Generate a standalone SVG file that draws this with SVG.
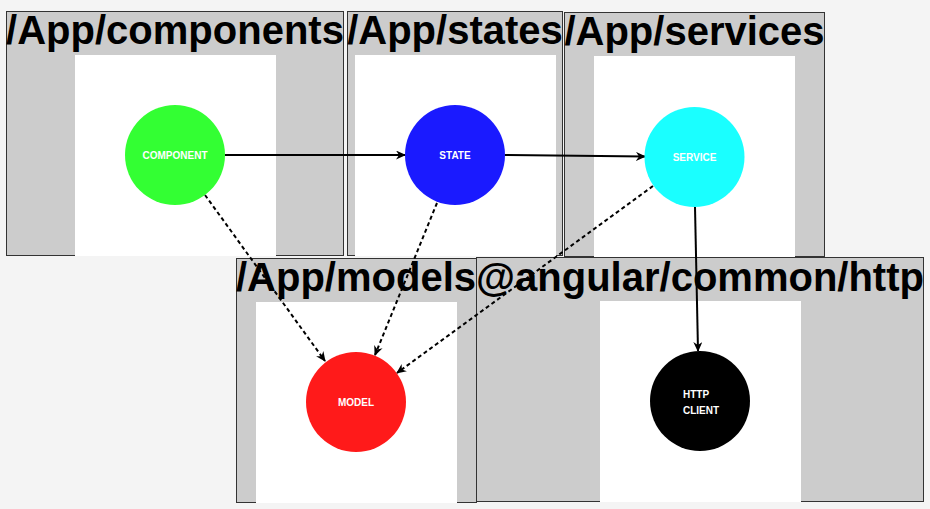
<svg xmlns="http://www.w3.org/2000/svg" width="930" height="509" viewBox="0 0 930 509">
<defs>
<style>
.box{fill:#cccccc;stroke:#333333;stroke-width:1}
.inner{fill:#ffffff}
.title{font-family:"Liberation Sans",Arial,sans-serif;font-weight:bold;font-size:40px;fill:#000;text-anchor:middle}
.lbl{font-family:"Liberation Sans",Arial,sans-serif;font-weight:bold;font-size:10px;fill:#fff;text-anchor:middle}
.lbll{font-family:"Liberation Sans",Arial,sans-serif;font-weight:bold;font-size:10px;fill:#fff}
.edge{fill:none;stroke:#000;stroke-width:2}
.dash{stroke-dasharray:4 3}
</style>
<marker id="arr" viewBox="0 0 10 9" refX="9" refY="4.5" markerWidth="10" markerHeight="9" markerUnits="userSpaceOnUse" orient="auto">
<path d="M0,0 L10,4.5 L0,9 L3,4.5 z" fill="#000"/>
</marker>
</defs>
<rect x="0" y="0" width="930" height="509" fill="#f4f4f4"/>
<g id="grp-components">
<rect class="box" x="6.5" y="11.5" width="337" height="244"/>
<rect class="inner" x="75" y="55" width="201" height="201"/>
<text class="title" x="175" y="44">/App/components</text>
</g>
<g id="grp-states">
<rect class="box" x="347.5" y="11.5" width="215" height="244"/>
<rect class="inner" x="355" y="55" width="201" height="201"/>
<text class="title" x="455" y="44">/App/states</text>
</g>
<g id="grp-services">
<rect class="box" x="564.5" y="12.5" width="260" height="244"/>
<rect class="inner" x="594" y="56" width="201" height="201"/>
<text class="title" x="694.5" y="45">/App/services</text>
</g>
<g id="grp-models">
<rect class="box" x="236.5" y="258.5" width="240" height="244"/>
<rect class="inner" x="256" y="302" width="201" height="201"/>
<text class="title" x="356" y="291">/App/models</text>
</g>
<g id="grp-http">
<rect class="box" x="476.5" y="257.5" width="447" height="244"/>
<rect class="inner" x="600" y="301" width="201" height="201"/>
<text class="title" x="700" y="291">@angular/common/http</text>
</g>
<g id="connectors">
<path class="edge" d="M225,155 L405,155" marker-end="url(#arr)"/>
<path class="edge" d="M505,155 L645,156.5" marker-end="url(#arr)"/>
<path class="edge" d="M695,207 L698,351" marker-end="url(#arr)"/>
<path class="edge dash" d="M205,195 L325,361" marker-end="url(#arr)"/>
<path class="edge dash" d="M437,203 L375,355" marker-end="url(#arr)"/>
<path class="edge dash" d="M653,186 L397,373" marker-end="url(#arr)"/>
</g>
<g id="node-component">
<circle cx="175" cy="155" r="50" fill="#33ff33"/>
<text class="lbl" x="175" y="159">COMPONENT</text>
</g>
<g id="node-state">
<circle cx="455" cy="155" r="50" fill="#1a1aff"/>
<text class="lbl" x="455" y="159">STATE</text>
</g>
<g id="node-service">
<circle cx="694.5" cy="157" r="50" fill="#1affff"/>
<text class="lbl" x="694.5" y="161">SERVICE</text>
</g>
<g id="node-model">
<circle cx="356" cy="402" r="50" fill="#ff1a1a"/>
<text class="lbl" x="356" y="406">MODEL</text>
</g>
<g id="node-http">
<circle cx="700" cy="401" r="50" fill="#000000"/>
<text class="lbll" x="683" y="398">HTTP</text>
<text class="lbll" x="683" y="413.5">CLIENT</text>
</g>
</svg>
